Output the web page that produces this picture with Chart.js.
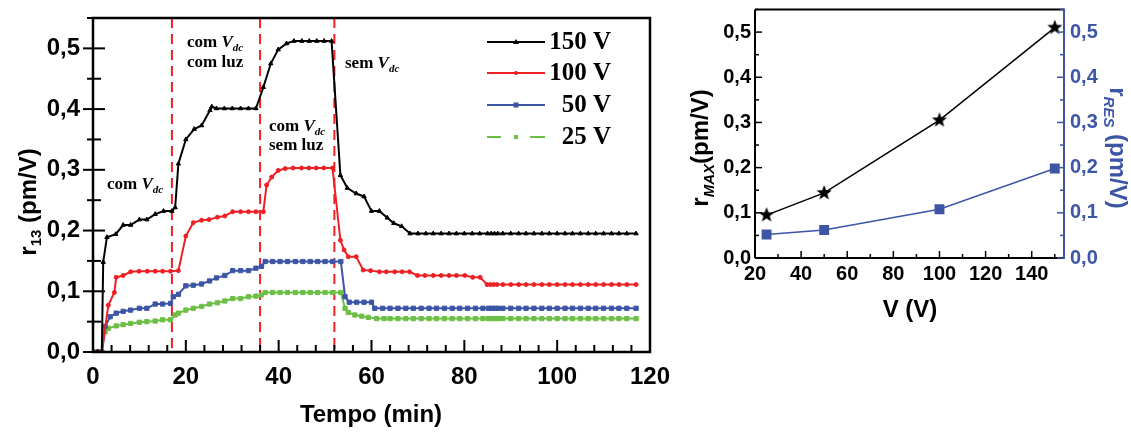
<!DOCTYPE html>
<html>
<head>
<meta charset="utf-8">
<script src="https://cdn.jsdelivr.net/npm/chart.js@4"></script>
<style>
  html, body { margin: 0; padding: 0; background: #fff; }
  #wrap { position: relative; width: 1131px; height: 432px; }
  canvas { position: absolute; top: 0; }
  #left { left: 0; }
  #right { left: 680px; }
</style>
</head>
<body>
<div id="wrap">
  <canvas id="left" width="680" height="432"></canvas>
  <canvas id="right" width="451" height="432"></canvas>
</div>
<script>
/* ---- data: left panel, r13 vs time [min, pm/V] ---- */
const s150 = [[0,0],[1,0],[1.9,0],[2.2,0.148],[3.0,0.189],[4.9,0.194],[6.5,0.209],[8.1,0.209],[10.0,0.218],[11.6,0.218],
  [13.4,0.227],[15.2,0.232],[17.0,0.232],[17.7,0.238],[18.4,0.31],[20.0,0.35],[21.8,0.367],[23.4,0.373],[25.2,0.398],[25.6,0.404],
  [26.6,0.401],[28.3,0.401],[30.0,0.401],[31.8,0.401],[33.5,0.401],[35.1,0.401],[36.7,0.436],[38.3,0.475],[39.9,0.498],[41.7,0.508],
  [43.3,0.512],[45.0,0.512],[46.6,0.512],[48.2,0.512],[49.8,0.512],[51.4,0.512],[53.3,0.291],[54.8,0.27],[56.7,0.261],[58.4,0.256],
  [60.0,0.232],[61.7,0.232],[63.4,0.221],[64.8,0.212],[66.5,0.207],[68.3,0.195],[70.0,0.195],[71.7,0.195],[73.3,0.195],[75.0,0.195],
  [76.7,0.195],[78.3,0.195],[80.0,0.195],[81.7,0.195],[83.3,0.195],[85.0,0.195],[85.8,0.195],[86.5,0.195],[87.2,0.195],[88.3,0.195],
  [90.0,0.195],[91.7,0.195],[93.3,0.195],[95.0,0.195],[96.7,0.195],[98.3,0.195],[100.0,0.195],[101.7,0.195],[103.3,0.195],[105.0,0.195],
  [106.7,0.195],[108.3,0.195],[110.0,0.195],[111.7,0.195],[113.3,0.195],[115.0,0.195],[117.0,0.195]];

const s100 = [[0,0],[1,0],[1.9,0],[3.3,0.077],[4.6,0.098],[5.0,0.123],[6.5,0.126],[8.1,0.132],[9.9,0.133],[11.7,0.133],
  [13.4,0.133],[15.0,0.133],[16.7,0.133],[18.4,0.134],[20.0,0.191],[21.6,0.213],[23.4,0.217],[25.0,0.218],[26.8,0.222],[28.4,0.224],
  [30.1,0.231],[31.8,0.231],[33.5,0.231],[35.1,0.231],[36.7,0.231],[37.4,0.275],[38.5,0.288],[39.9,0.299],[41.4,0.302],[43.1,0.303],
  [44.9,0.303],[46.5,0.303],[48.1,0.303],[49.7,0.303],[51.6,0.303],[53.3,0.184],[54.1,0.168],[55.0,0.157],[56.7,0.157],[58.2,0.135],
  [59.8,0.134],[61.7,0.132],[63.2,0.132],[65.0,0.132],[66.6,0.132],[68.2,0.132],[69.9,0.126],[71.5,0.126],[73.3,0.126],[75.0,0.126],
  [76.7,0.126],[78.3,0.126],[80.1,0.126],[81.8,0.123],[83.4,0.123],[84.9,0.111],[85.6,0.111],[86.3,0.111],[87.0,0.111],[88.3,0.111],
  [90.0,0.111],[91.7,0.111],[93.3,0.111],[95.0,0.111],[96.7,0.111],[98.3,0.111],[100.0,0.111],[101.7,0.111],[103.3,0.111],[105.0,0.111],
  [106.7,0.111],[108.3,0.111],[110.0,0.111],[111.7,0.111],[113.3,0.111],[115.0,0.111],[117.0,0.111]];

const s50 = [[0,0],[1,0],[1.9,0],[2.6,0.042],[3.7,0.058],[5.0,0.064],[6.5,0.067],[8.1,0.069],[10.0,0.072],[11.6,0.072],
  [13.4,0.079],[15.0,0.079],[16.7,0.08],[17.3,0.091],[18.4,0.095],[20.0,0.109],[21.6,0.11],[23.4,0.112],[25.1,0.117],[26.6,0.122],
  [28.4,0.126],[30.1,0.134],[31.8,0.134],[33.5,0.134],[35.1,0.138],[36.3,0.141],[37.1,0.149],[38.7,0.149],[40.3,0.149],[41.9,0.149],
  [43.6,0.149],[45.2,0.149],[46.8,0.149],[48.4,0.149],[50.0,0.149],[51.6,0.149],[53.4,0.149],[54.3,0.091],[55.2,0.082],[56.8,0.082],
  [58.4,0.082],[60.0,0.082],[60.7,0.072],[62.4,0.072],[64.0,0.072],[65.7,0.072],[67.4,0.072],[69.0,0.072],[70.7,0.072],[72.4,0.072],
  [74.0,0.072],[75.7,0.072],[77.4,0.072],[79.0,0.072],[80.7,0.072],[82.4,0.072],[84.0,0.072],[85.2,0.072],[85.9,0.072],[86.6,0.072],
  [87.3,0.072],[88.3,0.072],[90.0,0.072],[91.7,0.072],[93.3,0.072],[95.0,0.072],[96.7,0.072],[98.3,0.072],[100.0,0.072],[101.7,0.072],
  [103.3,0.072],[105.0,0.072],[106.7,0.072],[108.3,0.072],[110.0,0.072],[111.7,0.072],[113.3,0.072],[115.0,0.072],[117.0,0.072]];

const s25 = [[0,0],[1,0],[1.9,0],[2.6,0.033],[3.3,0.039],[5.0,0.043],[6.5,0.045],[8.1,0.047],[10.0,0.049],[11.6,0.05],
  [13.4,0.051],[15.0,0.053],[16.7,0.053],[17.7,0.061],[18.4,0.064],[20.0,0.069],[21.6,0.072],[23.4,0.075],[25.1,0.079],[26.8,0.081],
  [28.4,0.084],[30.1,0.088],[31.8,0.088],[33.5,0.091],[35.1,0.092],[36.3,0.094],[37.1,0.098],[38.7,0.098],[40.3,0.098],[41.9,0.098],
  [43.6,0.098],[45.2,0.098],[46.8,0.098],[48.4,0.098],[50.0,0.098],[51.6,0.098],[53.4,0.098],[54.3,0.072],[55.0,0.065],[56.4,0.061],
  [57.9,0.059],[59.3,0.057],[61.1,0.055],[62.7,0.055],[64.0,0.055],[65.7,0.055],[67.4,0.055],[69.0,0.055],[70.7,0.055],[72.4,0.055],
  [74.0,0.055],[75.7,0.055],[77.4,0.055],[79.0,0.055],[80.7,0.055],[82.4,0.055],[84.0,0.055],[85.2,0.055],[85.9,0.055],[86.6,0.055],
  [87.3,0.055],[88.3,0.055],[90.0,0.055],[91.7,0.055],[93.3,0.055],[95.0,0.055],[96.7,0.055],[98.3,0.055],[100.0,0.055],[101.7,0.055],
  [103.3,0.055],[105.0,0.055],[106.7,0.055],[108.3,0.055],[110.0,0.055],[111.7,0.055],[113.3,0.055],[115.0,0.055],[117.0,0.055]];

const seriesLabels = ['150 V', '100 V', '50 V', '25 V'];
const switchTimes = [17, 36, 52]; // dashed lines (min)
const timeTicks = [0, 20, 40, 60, 80, 100, 120];
const rTicks = [0, 0.1, 0.2, 0.3, 0.4, 0.5];

/* ---- data: right panel ---- */
const voltages = [25, 50, 100, 150];
const rMax = [0.095, 0.144, 0.305, 0.51];
const rRes = [0.052, 0.062, 0.108, 0.198];
const voltTicks = [20, 40, 60, 80, 100, 120, 140];

const SANS = '"Liberation Sans", Arial, sans-serif';
const SERIF = '"Liberation Serif", "Times New Roman", serif';
const RED = '#ed2024', BLUE = '#3c55a5', GREEN = '#6cbf45', BLACK = '#000';

function comma(v) { return v.toFixed(1).replace('.', ','); }

// draw a run of text pieces (for subscripts), optional rotation
function richText(ctx, x, y, segs, align, angle) {
    ctx.save();
    ctx.translate(x, y);
    if (angle) ctx.rotate(angle);
    ctx.textBaseline = 'alphabetic';
    ctx.textAlign = 'left';
    let w = 0;
    segs.forEach(s => { ctx.font = s.font; w += ctx.measureText(s.text).width; });
    let cx = align === 'center' ? -w / 2 : 0;
    segs.forEach(s => {
        ctx.font = s.font;
        ctx.fillStyle = s.color || BLACK;
        ctx.fillText(s.text, cx, s.dy || 0);
        cx += ctx.measureText(s.text).width;
    });
    ctx.restore();
}

function seg(ctx, x1, y1, x2, y2) {
    ctx.beginPath(); ctx.moveTo(x1, y1); ctx.lineTo(x2, y2); ctx.stroke();
}

function mkSeries(label, pts, color, style, r) {
    return {
        label: label,
        data: pts.map(p => ({ x: p[0], y: p[1] })),
        borderColor: color, backgroundColor: color,
        borderWidth: 2, pointStyle: style, pointRadius: r,
        pointBorderWidth: 1, tension: 0
    };
}

const fixTicks = list => s => { s.ticks = list.map(v => ({ value: v })); };

/* ================= LEFT PANEL ================= */
const leftDecor = {
    id: 'leftDecor',
    beforeDatasetsDraw(chart) {
        const { ctx, chartArea: a, scales: { x } } = chart;
        ctx.save();
        ctx.strokeStyle = RED; ctx.lineWidth = 2; ctx.setLineDash([10, 6]);
        switchTimes.forEach(t => {
            const px = x.getPixelForValue(t);
            seg(ctx, px, a.top, px, a.bottom);
        });
        ctx.restore();
    },
    afterDatasetsDraw(chart) {
        const { ctx, chartArea: a, scales: { x, y } } = chart;
        ctx.save();
        ctx.strokeStyle = BLACK;
        // frame
        ctx.lineWidth = 2.5;
        ctx.strokeRect(a.left, a.top, a.right - a.left, a.bottom - a.top);
        // ticks
        ctx.lineWidth = 2;
        for (let t = 0; t <= 120; t += 4) {
            const px = x.getPixelForValue(t);
            seg(ctx, px, a.bottom, px, a.bottom - (t % 20 === 0 ? 12 : 7));
        }
        for (let i = 0; i <= 11; i++) {
            const py = y.getPixelForValue(i * 0.05);
            if (i % 2 === 0) seg(ctx, a.left - 10, py, a.left + 12, py);
            else seg(ctx, a.left - 6, py, a.left + 8, py);
        }

        // annotations
        const big = 'bold 17px ' + SERIF, it = 'italic bold 17px ' + SERIF, sub = 'italic bold 11px ' + SERIF;
        const vdc = pre => [{ text: pre, font: big }, { text: 'V', font: it }, { text: 'dc', font: sub, dy: 4 }];
        richText(ctx, 107, 189, vdc('com '));
        richText(ctx, 187, 47, vdc('com '));
        richText(ctx, 187, 67, [{ text: 'com luz', font: big }]);
        richText(ctx, 269, 131, vdc('com '));
        richText(ctx, 269, 150, [{ text: 'sem luz', font: big }]);
        richText(ctx, 345, 68, vdc('sem '));

        // legend
        const rows = [42, 73, 105, 137];
        const cols = [BLACK, RED, BLUE, GREEN];
        chart.data.datasets.forEach((ds, i) => {
            const yy = rows[i];
            ctx.strokeStyle = cols[i]; ctx.fillStyle = cols[i]; ctx.lineWidth = 2;
            if (i === 3) {
                seg(ctx, 487, yy, 501, yy);
                seg(ctx, 530, yy, 545, yy);
                ctx.fillRect(514, yy - 2, 4, 4);
            } else {
                seg(ctx, 487, yy, 545, yy);
                ctx.beginPath();
                if (i === 0) { ctx.moveTo(516, yy - 3); ctx.lineTo(519, yy + 2); ctx.lineTo(513, yy + 2); ctx.closePath(); }
                else if (i === 1) ctx.arc(516, yy, 2, 0, Math.PI * 2);
                else ctx.rect(513.5, yy - 2.5, 5, 5);
                ctx.fill();
            }
            ctx.fillStyle = BLACK;
            ctx.font = 'bold 25px ' + SERIF;
            ctx.textAlign = 'right'; ctx.textBaseline = 'middle';
            ctx.fillText(ds.label, 611, yy + 1);
        });

        // axis titles
        const lab = 'bold 24px ' + SANS;
        richText(ctx, 371, 422, [{ text: 'Tempo (min)', font: lab }], 'center');
        richText(ctx, 36, 202, [
            { text: 'r', font: lab },
            { text: '13', font: 'bold 15px ' + SANS, dy: 5 },
            { text: ' (pm/V)', font: lab }
        ], 'center', -Math.PI / 2);
        ctx.restore();
    }
};

new Chart(document.getElementById('left'), {
    type: 'line',
    data: {
        datasets: [
            mkSeries(seriesLabels[0], s150, BLACK, 'triangle', 2.5),
            mkSeries(seriesLabels[1], s100, RED, 'circle', 2),
            mkSeries(seriesLabels[2], s50, BLUE, 'rect', 3),
            mkSeries(seriesLabels[3], s25, GREEN, 'rect', 3)
        ]
    },
    options: {
        responsive: false,
        animation: false,
        layout: { padding: { top: 18, right: 30, left: 0, bottom: 0 } },
        plugins: { legend: { display: false }, tooltip: { enabled: false } },
        scales: {
            x: {
                type: 'linear', min: 0, max: 120,
                grid: { display: false, drawTicks: false },
                border: { display: false },
                afterBuildTicks: fixTicks(timeTicks),
                ticks: { padding: 11, maxRotation: 0, autoSkip: false, color: BLACK,
                         font: { family: SANS, size: 24, weight: 'bold' } },
                afterFit: s => { s.height = 80; s.paddingLeft = 0; s.paddingRight = 0; }
            },
            y: {
                min: 0, max: 0.55,
                grid: { display: false, drawTicks: false },
                border: { display: false },
                afterBuildTicks: fixTicks(rTicks),
                ticks: { padding: 13, color: BLACK, autoSkip: false, callback: v => comma(v),
                         font: { family: SANS, size: 24, weight: 'bold' } },
                afterFit: s => { s.width = 93; s.paddingTop = 0; s.paddingBottom = 0; }
            }
        }
    },
    plugins: [leftDecor]
});

/* ================= RIGHT PANEL ================= */
// filled five-pointed star used as point marker
function starImage(r) {
    const c = document.createElement('canvas');
    c.width = c.height = r * 2 + 2;
    const g = c.getContext('2d');
    g.beginPath();
    for (let i = 0; i < 10; i++) {
        const rad = i % 2 === 0 ? r : r * 0.42;
        const ang = -Math.PI / 2 + i * Math.PI / 5;
        const px = r + 1 + rad * Math.cos(ang), py = r + 1 + rad * Math.sin(ang);
        if (i === 0) g.moveTo(px, py); else g.lineTo(px, py);
    }
    g.closePath();
    g.fillStyle = BLACK;
    g.fill();
    return c;
}

const rightDecor = {
    id: 'rightDecor',
    afterDatasetsDraw(chart) {
        const { ctx, chartArea: a, scales: { x, y, y2 } } = chart;
        ctx.save();
        ctx.lineWidth = 2;
        ctx.strokeStyle = BLACK;
        seg(ctx, a.right, a.top, a.left, a.top);
        seg(ctx, a.left, a.top, a.left, a.bottom);
        seg(ctx, a.left, a.bottom, a.right, a.bottom);
        ctx.strokeStyle = BLUE;
        seg(ctx, a.right, a.top - 1, a.right, a.bottom + 1);

        ctx.lineWidth = 1.5;
        ctx.strokeStyle = BLACK;
        for (let v = 20; v <= 150; v += 10) {
            const px = x.getPixelForValue(v);
            seg(ctx, px, a.bottom, px, a.bottom - (v % 20 === 0 ? 7 : 4));
        }
        for (let i = 0; i <= 11; i++) {
            const py = y.getPixelForValue(i * 0.05);
            seg(ctx, a.left, py, a.left + (i % 2 === 0 ? 7 : 4), py);
        }
        ctx.strokeStyle = BLUE;
        for (let i = 0; i <= 11; i++) {
            const py = y2.getPixelForValue(i * 0.05);
            seg(ctx, a.right, py, a.right - (i % 2 === 0 ? 7 : 4), py);
        }

        const lab = 'bold 24px ' + SANS, sub = 'italic bold 15px ' + SANS;
        richText(ctx, 230, 317, [{ text: 'V (V)', font: lab }], 'center');
        richText(ctx, 28, 148, [
            { text: 'r', font: lab },
            { text: 'MAX', font: sub, dy: 6 },
            { text: '(pm/V)', font: lab }
        ], 'center', -Math.PI / 2);
        richText(ctx, 430, 148, [
            { text: 'r', font: lab, color: BLUE },
            { text: 'RES', font: sub, dy: 6, color: BLUE },
            { text: ' (pm/V)', font: lab, color: BLUE }
        ], 'center', Math.PI / 2);
        ctx.restore();
    }
};

const tickFont = { family: SANS, size: 20, weight: 'bold' };

new Chart(document.getElementById('right'), {
    type: 'line',
    data: {
        datasets: [
            {
                label: 'rMAX', yAxisID: 'y',
                data: voltages.map((v, i) => ({ x: v, y: rMax[i] })),
                borderColor: BLACK, borderWidth: 1.5,
                pointStyle: starImage(8), pointRadius: 8, tension: 0
            },
            {
                label: 'rRES', yAxisID: 'y2',
                data: voltages.map((v, i) => ({ x: v, y: rRes[i] })),
                borderColor: BLUE, backgroundColor: BLUE, borderWidth: 1.5,
                pointStyle: 'rect', pointRadius: 7, pointBorderWidth: 0, tension: 0
            }
        ]
    },
    options: {
        responsive: false,
        animation: false,
        layout: { padding: { top: 4, right: 0, left: 0, bottom: 0 } },
        plugins: { legend: { display: false }, tooltip: { enabled: false } },
        scales: {
            x: {
                type: 'linear', min: 20, max: 154,
                grid: { display: false, drawTicks: false },
                border: { display: false },
                afterBuildTicks: fixTicks(voltTicks),
                ticks: { padding: 4, maxRotation: 0, autoSkip: false, color: BLACK, font: tickFont },
                afterFit: s => { s.height = 174; s.paddingLeft = 0; s.paddingRight = 0; }
            },
            y: {
                position: 'left', min: 0, max: 0.55,
                grid: { display: false, drawTicks: false },
                border: { display: false },
                afterBuildTicks: fixTicks(rTicks),
                ticks: { padding: 4, autoSkip: false, color: BLACK, font: tickFont, callback: v => comma(v) },
                afterFit: s => { s.width = 75; s.paddingTop = 0; s.paddingBottom = 0; }
            },
            y2: {
                position: 'right', min: 0, max: 0.55,
                grid: { display: false, drawTicks: false },
                border: { display: false },
                afterBuildTicks: fixTicks(rTicks),
                ticks: { padding: 6, autoSkip: false, color: BLUE, font: tickFont, callback: v => comma(v) },
                afterFit: s => { s.width = 67; s.paddingTop = 0; s.paddingBottom = 0; }
            }
        }
    },
    plugins: [rightDecor]
});
</script>
</body>
</html>
